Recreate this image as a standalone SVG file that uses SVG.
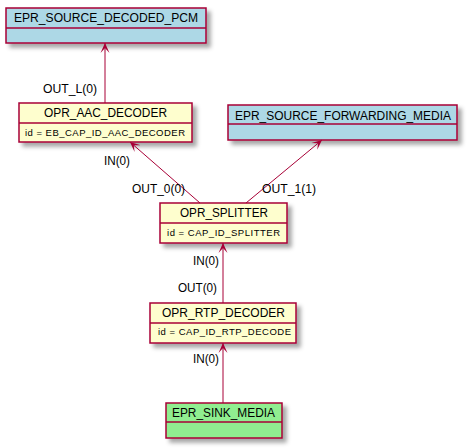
<svg xmlns="http://www.w3.org/2000/svg" width="467" height="448" viewBox="0 0 467 448">
<style>
.box{stroke:#A80036;stroke-width:1.5;filter:url(#sh)}
.div{stroke:#A80036;stroke-width:1.5}
.blue{fill:#ADD8E6}.yel{fill:#FEFECE}.grn{fill:#90EE90}
.t{font-family:"Liberation Sans",Arial,sans-serif;font-size:12px;fill:#000;text-anchor:middle}
.s{font-family:"Liberation Sans",Arial,sans-serif;font-size:9.5px;fill:#000;text-anchor:middle}
.l{font-family:"Liberation Sans",Arial,sans-serif;font-size:12px;fill:#000}
.c{stroke:#A80036;stroke-width:1;fill:none;marker-end:url(#ah)}
</style>
<defs>
<filter id="sh" x="-10%" y="-20%" width="130%" height="160%">
<feGaussianBlur in="SourceAlpha" stdDeviation="2"/>
<feOffset dx="4" dy="4" result="b"/>
<feFlood flood-color="#000" flood-opacity="0.35"/>
<feComposite in2="b" operator="in" result="s"/>
<feMerge><feMergeNode in="s"/><feMergeNode in="SourceGraphic"/></feMerge>
</filter>
<marker id="ah" markerUnits="userSpaceOnUse" viewBox="-10 -5 11 10" refX="0" refY="0" markerWidth="11" markerHeight="10" orient="auto">
<path d="M0,0 L-10,-4.5 L-5,0 L-10,4.5 Z" fill="#A80036"/>
</marker>
</defs>
<g id="EPR_SOURCE_DECODED_PCM">
<rect class="box blue" x="6" y="8" width="200" height="35"/>
<line class="div" x1="6" y1="28" x2="206" y2="28"/>
<text class="t" x="106" y="22" textLength="184" lengthAdjust="spacingAndGlyphs">EPR_SOURCE_DECODED_PCM</text>
</g>
<g id="OPR_AAC_DECODER">
<rect class="box yel" x="19" y="103" width="173" height="39"/>
<line class="div" x1="19" y1="123" x2="192" y2="123"/>
<text class="t" x="105.5" y="117" textLength="123" lengthAdjust="spacingAndGlyphs">OPR_AAC_DECODER</text>
<text class="s" x="105" y="136" textLength="160" lengthAdjust="spacing">id = EB_CAP_ID_AAC_DECODER</text>
</g>
<g id="EPR_SOURCE_FORWARDING_MEDIA">
<rect class="box blue" x="228" y="105" width="229" height="35"/>
<line class="div" x1="228" y1="124" x2="457" y2="124"/>
<text class="t" x="343" y="120" textLength="216" lengthAdjust="spacingAndGlyphs">EPR_SOURCE_FORWARDING_MEDIA</text>
</g>
<g id="OPR_SPLITTER">
<rect class="box yel" x="160" y="203" width="127" height="40"/>
<line class="div" x1="160" y1="223" x2="287" y2="223"/>
<text class="t" x="224" y="217" textLength="88" lengthAdjust="spacingAndGlyphs">OPR_SPLITTER</text>
<text class="s" x="223.5" y="236" textLength="113" lengthAdjust="spacing">id = CAP_ID_SPLITTER</text>
</g>
<g id="OPR_RTP_DECODER">
<rect class="box yel" x="150" y="303" width="146" height="40"/>
<line class="div" x1="150" y1="323" x2="296" y2="323"/>
<text class="t" x="223.5" y="317" textLength="123" lengthAdjust="spacingAndGlyphs">OPR_RTP_DECODER</text>
<text class="s" x="224.5" y="335" textLength="133" lengthAdjust="spacing">id = CAP_ID_RTP_DECODE</text>
</g>
<g id="EPR_SINK_MEDIA">
<rect class="box grn" x="166" y="403" width="116" height="35"/>
<line class="div" x1="166" y1="422" x2="282" y2="422"/>
<text class="t" x="223.5" y="417" textLength="103" lengthAdjust="spacingAndGlyphs">EPR_SINK_MEDIA</text>
</g>
<g id="connectors">
<line class="c" x1="105" y1="103" x2="105" y2="43"/>
<line class="c" x1="200" y1="203" x2="130" y2="142"/>
<line class="c" x1="246" y1="203" x2="322" y2="140"/>
<line class="c" x1="223" y1="303" x2="223" y2="243"/>
<line class="c" x1="223" y1="403" x2="223" y2="343"/>
<text class="l" x="43" y="93" textLength="54" lengthAdjust="spacingAndGlyphs">OUT_L(0)</text>
<text class="l" x="104" y="165" textLength="26" lengthAdjust="spacingAndGlyphs">IN(0)</text>
<text class="l" x="132" y="193" textLength="53" lengthAdjust="spacingAndGlyphs">OUT_0(0)</text>
<text class="l" x="262" y="193" textLength="54" lengthAdjust="spacingAndGlyphs">OUT_1(1)</text>
<text class="l" x="193" y="265" textLength="26" lengthAdjust="spacingAndGlyphs">IN(0)</text>
<text class="l" x="178" y="292" textLength="39" lengthAdjust="spacingAndGlyphs">OUT(0)</text>
<text class="l" x="193" y="363" textLength="26" lengthAdjust="spacingAndGlyphs">IN(0)</text>
</g>
</svg>
